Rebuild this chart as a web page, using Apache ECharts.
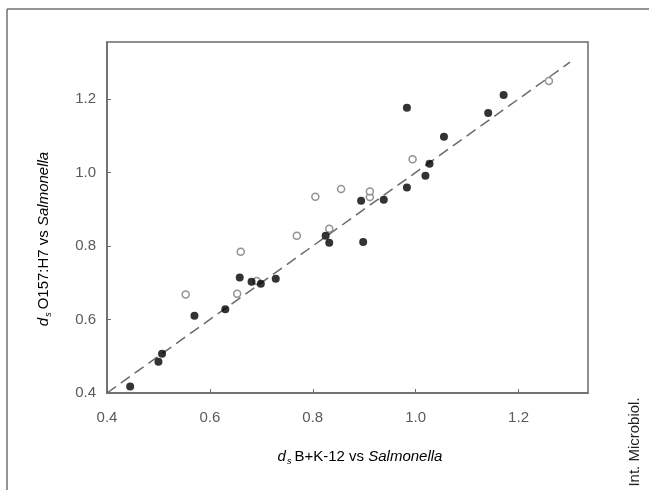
<!DOCTYPE html>
<html>
<head>
<meta charset="utf-8">
<script src="https://cdn.jsdelivr.net/npm/echarts@6/dist/echarts.min.js"></script>
<style>
html,body{margin:0;padding:0;background:#fff;}
#chart{width:649px;height:490px;}
</style>
</head>
<body>
<div id="chart"></div>
<script>
// Filled (black) points: [x, y]
var filledPoints = [
  [0.445, 0.418], [0.500, 0.485], [0.507, 0.507], [0.570, 0.610],
  [0.630, 0.628], [0.658, 0.714], [0.681, 0.703], [0.699, 0.697],
  [0.728, 0.711], [0.825, 0.828], [0.832, 0.809], [0.898, 0.811],
  [0.894, 0.923], [0.938, 0.926], [0.983, 0.959], [1.019, 0.991],
  [1.027, 1.024], [1.055, 1.097], [0.983, 1.176], [1.141, 1.162],
  [1.171, 1.211]
];
// Open (hollow) points: [x, y]
var openPoints = [
  [0.553, 0.668], [0.653, 0.670], [0.660, 0.784], [0.691, 0.705],
  [0.769, 0.828], [0.832, 0.847], [0.805, 0.934], [0.855, 0.955],
  [0.911, 0.933], [0.911, 0.948], [0.994, 1.036], [1.259, 1.249]
];
// 1:1 reference line
var diagonalLine = [[0.4, 0.4], [1.3, 1.3]];
var xTicks = [0.4, 0.6, 0.8, 1.0, 1.2];
var yTicks = [0.4, 0.6, 0.8, 1.0, 1.2];

var chart = echarts.init(document.getElementById('chart'), null, {renderer: 'canvas'});
function fmt(list) {
  return function (v) {
    for (var i = 0; i < list.length; i++) {
      if (Math.abs(v - list[i]) < 1e-6) return list[i].toFixed(1);
    }
    return '';
  };
}
var axisGray = '#6a6a6a';
var labelGray = '#5a5a5a';
var font = 'Arial, "Liberation Sans", sans-serif';
var rich = {
  i: {fontFamily: font, fontSize: 15, fontStyle: 'italic', color: labelGray, lineHeight: 18, verticalAlign: 'middle'},
  s: {fontFamily: font, fontSize: 9, fontStyle: 'italic', color: labelGray, lineHeight: 18, verticalAlign: 'bottom', padding: [0, 3, 0, 1]},
  n: {fontFamily: font, fontSize: 15, color: labelGray, lineHeight: 18, verticalAlign: 'middle'}
};
chart.setOption({
  animation: false,
  backgroundColor: '#fff',
  grid: {left: 107, right: 61, top: 42, bottom: 97, show: true, borderColor: axisGray, borderWidth: 1.5, backgroundColor: 'transparent'},
  xAxis: {
    type: 'value', min: 0.4, max: 1.335, interval: 0.2,
    axisLine: {show: true, lineStyle: {color: axisGray, width: 1.5}},
    axisTick: {show: true, inside: true, length: 4, lineStyle: {color: axisGray, width: 1}},
    axisLabel: {formatter: fmt(xTicks), color: labelGray, fontSize: 15, fontFamily: font, margin: 17, showMaxLabel: false},
    splitLine: {show: false}
  },
  yAxis: {
    type: 'value', min: 0.4, max: 1.355, interval: 0.2,
    axisLine: {show: true, lineStyle: {color: axisGray, width: 1.5}},
    axisTick: {show: true, inside: true, length: 4, lineStyle: {color: axisGray, width: 1}},
    axisLabel: {formatter: fmt(yTicks), color: labelGray, fontSize: 15, fontFamily: font, margin: 11, showMaxLabel: false},
    splitLine: {show: false}
  },
  series: [
    {
      type: 'line', data: diagonalLine, symbol: 'none', silent: true,
      lineStyle: {color: '#6a6a6a', width: 1.5, type: [11, 6]}, z: 1
    },
    {
      type: 'scatter', data: openPoints, symbol: 'circle', symbolSize: 7,
      itemStyle: {color: '#fff', borderColor: '#777', borderWidth: 1.5}, z: 3
    },
    {
      type: 'scatter', data: filledPoints, symbol: 'circle', symbolSize: 8,
      itemStyle: {color: '#000', borderColor: '#000', borderWidth: 0}, z: 4
    }
  ],
  graphic: [
    {type: 'line', shape: {x1: 7, y1: 9, x2: 649, y2: 9}, style: {stroke: '#707070', lineWidth: 1.5}, silent: true},
    {type: 'line', shape: {x1: 7, y1: 9, x2: 7, y2: 490}, style: {stroke: '#707070', lineWidth: 1.5}, silent: true},
    {
      type: 'text', x: 360, y: 457,
      style: {text: '{i|d}{s|s}{n|B+K-12 vs }{i|Salmonella}', rich: rich, align: 'center', verticalAlign: 'middle'}
    },
    {
      type: 'text', x: 44, y: 239, rotation: Math.PI / 2,
      style: {text: '{i|d}{s|s}{n|O157:H7 vs }{i|Salmonella}', rich: rich, align: 'center', verticalAlign: 'middle'}
    },
    {
      type: 'text', x: 635, y: 442, rotation: Math.PI / 2,
      style: {text: 'Int. Microbiol.', fontFamily: font, fontSize: 15, fill: '#222', align: 'center', verticalAlign: 'middle'}
    }
  ]
});
</script>
</body>
</html>
